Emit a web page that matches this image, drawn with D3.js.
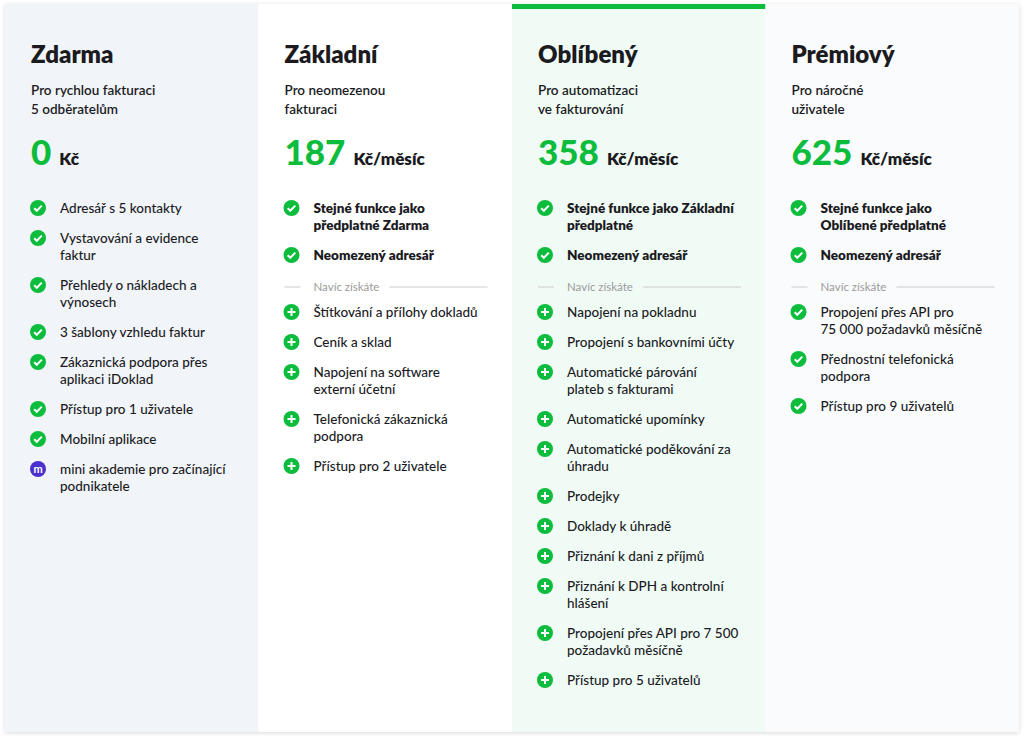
<!DOCTYPE html>
<html><head><meta charset="utf-8">
<script src="https://cdn.jsdelivr.net/npm/d3@7"></script>
<style>body{margin:0;background:#fff;} text{font-family:Lato,"Open Sans",sans-serif;}</style>
</head><body>
<script>
const W = 1024, H = 736;
const plans = ['Zdarma', 'Základní', 'Oblíbený', 'Prémiový'];
const subtitles = [
  ['Pro rychlou fakturaci', '5 odběratelům'],
  ['Pro neomezenou', 'fakturaci'],
  ['Pro automatizaci', 've fakturování'],
  ['Pro náročné', 'uživatele']
];
const prices = [0, 187, 358, 625];
const units = ['Kč', 'Kč/měsíc', 'Kč/měsíc', 'Kč/měsíc'];
const bgColors = ['#f1f4f8', '#ffffff', '#f1fbf6', '#fafbfc'];
// type: c = check, p = plus, m = academy, d = divider, b = bold check
const features = [
  [['c', 'Adresář s 5 kontakty'], ['c', 'Vystavování a evidence|faktur'], ['c', 'Přehledy o nákladech a|výnosech'],
   ['c', '3 šablony vzhledu faktur'], ['c', 'Zákaznická podpora přes|aplikaci iDoklad'], ['c', 'Přístup pro 1 uživatele'],
   ['c', 'Mobilní aplikace'], ['m', 'mini akademie pro začínající|podnikatele']],
  [['b', 'Stejné funkce jako|předplatné Zdarma'], ['b', 'Neomezený adresář'], ['d', 'Navíc získáte'],
   ['p', 'Štítkování a přílohy dokladů'], ['p', 'Ceník a sklad'], ['p', 'Napojení na software|externí účetní'],
   ['p', 'Telefonická zákaznická|podpora'], ['p', 'Přístup pro 2 uživatele']],
  [['b', 'Stejné funkce jako Základní|předplatné'], ['b', 'Neomezený adresář'], ['d', 'Navíc získáte'],
   ['p', 'Napojení na pokladnu'], ['p', 'Propojení s bankovními účty'], ['p', 'Automatické párování|plateb s fakturami'],
   ['p', 'Automatické upomínky'], ['p', 'Automatické poděkování za|úhradu'], ['p', 'Prodejky'], ['p', 'Doklady k úhradě'],
   ['p', 'Přiznání k dani z příjmů'], ['p', 'Přiznání k DPH a kontrolní|hlášení'],
   ['p', 'Propojení přes API pro 7 500|požadavků měsíčně'], ['p', 'Přístup pro 5 uživatelů']],
  [['b', 'Stejné funkce jako|Oblíbené předplatné'], ['b', 'Neomezený adresář'], ['d', 'Navíc získáte'],
   ['c', 'Propojení přes API pro|75 000 požadavků měsíčně'], ['c', 'Přednostní telefonická|podpora'], ['c', 'Přístup pro 9 uživatelů']]
];

const green = '#0cbc3c', dark = '#1b1b1f';
const x = d3.scaleBand().domain(plans).range([5, 1019]);

const svg = d3.select('body').append('svg').attr('width', W).attr('height', H);
const defs = svg.append('defs');
const f = defs.append('filter').attr('id', 'sh').attr('x', -0.05).attr('y', -0.05).attr('width', 1.1).attr('height', 1.1);
f.append('feDropShadow').attr('dx', 0).attr('dy', 1).attr('stdDeviation', 2).attr('flood-color', '#000').attr('flood-opacity', 0.15);

svg.append('rect').attr('x', 5).attr('y', 4).attr('width', 1014).attr('height', 728).attr('fill', '#fff').attr('filter', 'url(#sh)');

const col = svg.selectAll('g.col').data(plans).join('g').attr('class', 'col')
  .attr('transform', d => `translate(${x(d)},0)`);

col.append('rect').attr('y', 4).attr('width', x.bandwidth()).attr('height', 728)
  .attr('fill', (d, i) => bgColors[i]);
col.filter((d, i) => i === 2).append('rect').attr('y', 4).attr('width', x.bandwidth()).attr('height', 5).attr('fill', green);

col.append('text').attr('x', 26).attr('y', 63).attr('font-size', 24).attr('font-weight', 800).attr('fill', dark).text(d => d);

col.each(function (d, i) {
  const g = d3.select(this);
  subtitles[i].forEach((s, k) => g.append('text').attr('x', 26).attr('y', 95 + k * 19)
    .attr('font-size', 13.5).attr('font-weight', 600).attr('fill', dark).text(s));

  const p = g.append('text').attr('x', 26).attr('y', 165);
  p.append('tspan').attr('font-size', 35).attr('font-weight', 900).attr('fill', green).text(prices[i]);
  p.append('tspan').attr('dx', 8).attr('font-size', 17).attr('font-weight', 800).attr('fill', dark).text(units[i]);

  let y = 213;
  features[i].forEach(([t, label]) => {
    if (t === 'd') {
      y += 1;
      g.append('line').attr('x1', 26).attr('x2', 42).attr('y1', y - 4).attr('y2', y - 4).attr('stroke', '#ccc');
      const tx = g.append('text').attr('x', 55).attr('y', y).attr('font-size', 11.5).attr('fill', '#9a9a9a').text(label);
      const w = tx.node().getComputedTextLength();
      g.append('line').attr('x1', 55 + w + 10).attr('x2', 229).attr('y1', y - 4).attr('y2', y - 4).attr('stroke', '#ccc');
      y += 26;
      return;
    }
    const cy = y - 5;
    const ic = g.append('g').attr('transform', `translate(33,${cy})`);
    ic.append('circle').attr('r', 8).attr('fill', t === 'm' ? '#4b2fcf' : green);
    if (t === 'p') {
      ic.append('path').attr('d', 'M-4,0H4M0,-4V4').attr('stroke', '#fff').attr('stroke-width', 2);
    } else if (t === 'm') {
      ic.append('text').attr('text-anchor', 'middle').attr('y', 3.5).attr('font-size', 11).attr('font-weight', 700)
        .attr('fill', '#fff').text('m');
    } else {
      ic.append('path').attr('d', 'M-3.8,0.2L-1.2,2.8L3.8,-2.4').attr('fill', 'none')
        .attr('stroke', '#fff').attr('stroke-width', 2);
    }
    const lines = label.split('|');
    lines.forEach((l, k) => g.append('text').attr('x', 55).attr('y', y + k * 17)
      .attr('font-size', 13.5).attr('font-weight', t === 'b' ? 800 : 500).attr('fill', dark).text(l));
    y += 30 + 17 * (lines.length - 1);
  });
});
</script>
</body></html>
